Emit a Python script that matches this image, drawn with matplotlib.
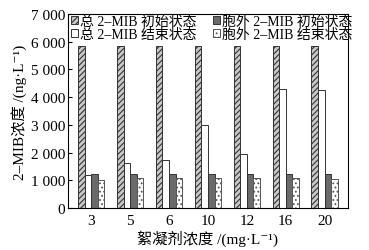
import numpy as np
import matplotlib
matplotlib.use("Agg")
import matplotlib.pyplot as plt
from matplotlib.ticker import FuncFormatter

plt.rcParams['font.family'] = ['Liberation Serif', 'Noto Sans CJK SC', 'DejaVu Serif']
plt.rcParams['hatch.linewidth'] = 0.8

doses = ['3', '5', '6', '10', '12', '16', '20']
total_init = [5850, 5850, 5850, 5850, 5850, 5850, 5850]
total_end = [1200, 1620, 1740, 3000, 1950, 4300, 4250]
extra_init = [1230, 1230, 1230, 1230, 1230, 1230, 1230]
extra_end = [1020, 1080, 1080, 1080, 1080, 1080, 1060]

labels = ['总 2–MIB 初始状态', '总 2–MIB 结束状态',
          '胞外 2–MIB 初始状态', '胞外 2–MIB 结束状态']

fig = plt.figure(figsize=(3.69, 2.51), dpi=100)
ax = fig.add_axes([0.184, 0.167, 0.759, 0.773])

x = np.arange(len(doses))
w = 0.17
b1 = ax.bar(x - 1.5 * w, total_init, w, color='#c8c8c8', edgecolor='#333333',
            hatch='//////', linewidth=0.7)
b2 = ax.bar(x - 0.5 * w, total_end, w, color='white', edgecolor='#333333',
            linewidth=0.7)
b3 = ax.bar(x + 0.5 * w, extra_init, w, color='#6a6a6a', edgecolor='#333333',
            linewidth=0.7)
b4 = ax.bar(x + 1.5 * w, extra_end, w, color='white', edgecolor='#555555',
            hatch='....', linewidth=0.7)

ax.set_xlim(-0.6, len(doses) - 0.4)
ax.set_ylim(0, 7000)
ax.set_xticks(x)
ax.set_xticklabels(doses)
ax.set_yticks(np.arange(0, 7001, 1000))
ax.yaxis.set_major_formatter(FuncFormatter(
    lambda v, p: f"{int(v):,}".replace(',', ' ')))
ax.tick_params(axis='y', direction='in', length=3, labelsize=11, pad=2)
ax.tick_params(axis='x', length=0, labelsize=11, pad=4)
for s in ax.spines.values():
    s.set_linewidth(0.8)

ax.set_ylabel('2–MIB浓度 /(ng·L⁻¹)', fontsize=11, labelpad=3)
ax.set_xlabel('絮凝剂浓度 /(mg·L⁻¹)', fontsize=11, labelpad=2)

ax.legend([b1, b2, b3, b4], labels, ncol=2, frameon=False, fontsize=10,
          loc='upper left', bbox_to_anchor=(-0.02, 1.04), handlelength=0.5,
          handleheight=0.5, handletextpad=0.15, columnspacing=1.2,
          labelspacing=0.0, borderaxespad=0.2)

fig.savefig('out.png', dpi=100)
